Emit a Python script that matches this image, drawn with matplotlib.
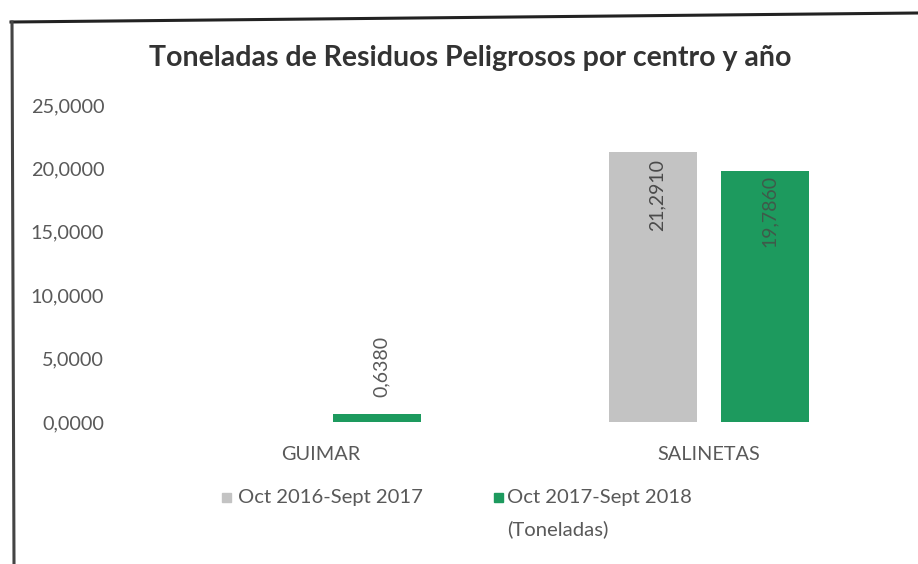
import matplotlib
matplotlib.use("Agg")
import matplotlib.pyplot as plt
from matplotlib.lines import Line2D
from matplotlib.patches import Rectangle
import numpy as np

categories = ["GUIMAR", "SALINETAS"]
series_names = ["Oct 2016-Sept 2017", "Oct 2017-Sept 2018\n(Toneladas)"]
values_2016 = [0.0, 21.2910]
values_2017 = [0.6380, 19.7860]
labels_2016 = [None, "21,2910"]
labels_2017 = ["0,6380", "19,7860"]
yticks = [0, 5, 10, 15, 20, 25]
ytick_labels = ["0,0000", "5,0000", "10,0000", "15,0000", "20,0000", "25,0000"]
title = "Toneladas de Residuos Peligrosos por centro y año"

GRAY = "#c3c3c3"
GREEN = "#1d9a5e"
TXT = "#595959"
FONT = ["Lato", "DejaVu Sans"]
plt.rcParams["font.family"] = FONT

W, H = 918, 564
fig = plt.figure(figsize=(W / 100, H / 100), dpi=100)
fig.patch.set_facecolor("white")

def fx(px):
    return px / W

def fy(py):
    return 1 - py / H

ax = fig.add_axes([fx(127), fy(422), fx(903) - fx(127), fy(105) - fy(422)])
x = np.arange(len(categories))
bw = 0.227
off = 0.144
b1 = ax.bar(x - off, values_2016, bw, color=GRAY)
b2 = ax.bar(x + off, values_2017, bw, color=GREEN)

ax.set_xlim(-0.5, 1.5)
ax.set_ylim(0, 25)
ax.set_yticks(yticks)
ax.set_yticklabels(ytick_labels)
ax.set_xticks(x)
ax.set_xticklabels(categories)
for s in ax.spines.values():
    s.set_visible(False)
ax.tick_params(axis="y", length=0, colors=TXT, labelsize=14.3, pad=16.5)
ax.tick_params(axis="x", length=0, colors=TXT, labelsize=14.3, pad=17)

LBL = 14
# data labels
for i, lab in enumerate(labels_2016):
    if lab:
        ax.annotate(lab, (x[i] - off, values_2016[i]), xytext=(3, -5),
                    textcoords="offset points", rotation=90, ha="center", va="top",
                    color="#4a4a4a", fontsize=LBL)
for i, lab in enumerate(labels_2017):
    if lab:
        if values_2017[i] > 5:
            ax.annotate(lab, (x[i] + off, values_2017[i]), xytext=(3, -3),
                        textcoords="offset points", rotation=90, ha="center", va="top",
                        color="#3f5a4a", fontsize=LBL)
        else:
            ax.annotate(lab, (x[i] + off, values_2017[i]), xytext=(3, 12),
                        textcoords="offset points", rotation=90, ha="center", va="bottom",
                        color=TXT, fontsize=LBL)

fig.text(fx(470), fy(58), title, ha="center", va="center", fontsize=20.5,
         fontweight="bold", color="#333333")

# legend
leg_items = [(222, 238, 497, GRAY, series_names[0]),
             (494, 507, 497, GREEN, series_names[1])]
for sx, tx, ty, col, name in leg_items:
    fig.add_artist(Rectangle((fx(sx), fy(ty + 5)), fx(9), 9 / H,
                             transform=fig.transFigure, color=col))
    fig.text(fx(tx), fy(ty - 8), name, ha="left", va="top", fontsize=14.6,
             color=TXT, linespacing=1.95)

# frame (scanned chart border)
fig.add_artist(Line2D([fx(11), fx(918)], [fy(22), fy(13)], color="#222222", lw=2.2))
fig.add_artist(Line2D([fx(12), fx(14)], [fy(22), fy(564)], color="#444444", lw=2.2))

fig.savefig("out.png", dpi=100, facecolor="white")
